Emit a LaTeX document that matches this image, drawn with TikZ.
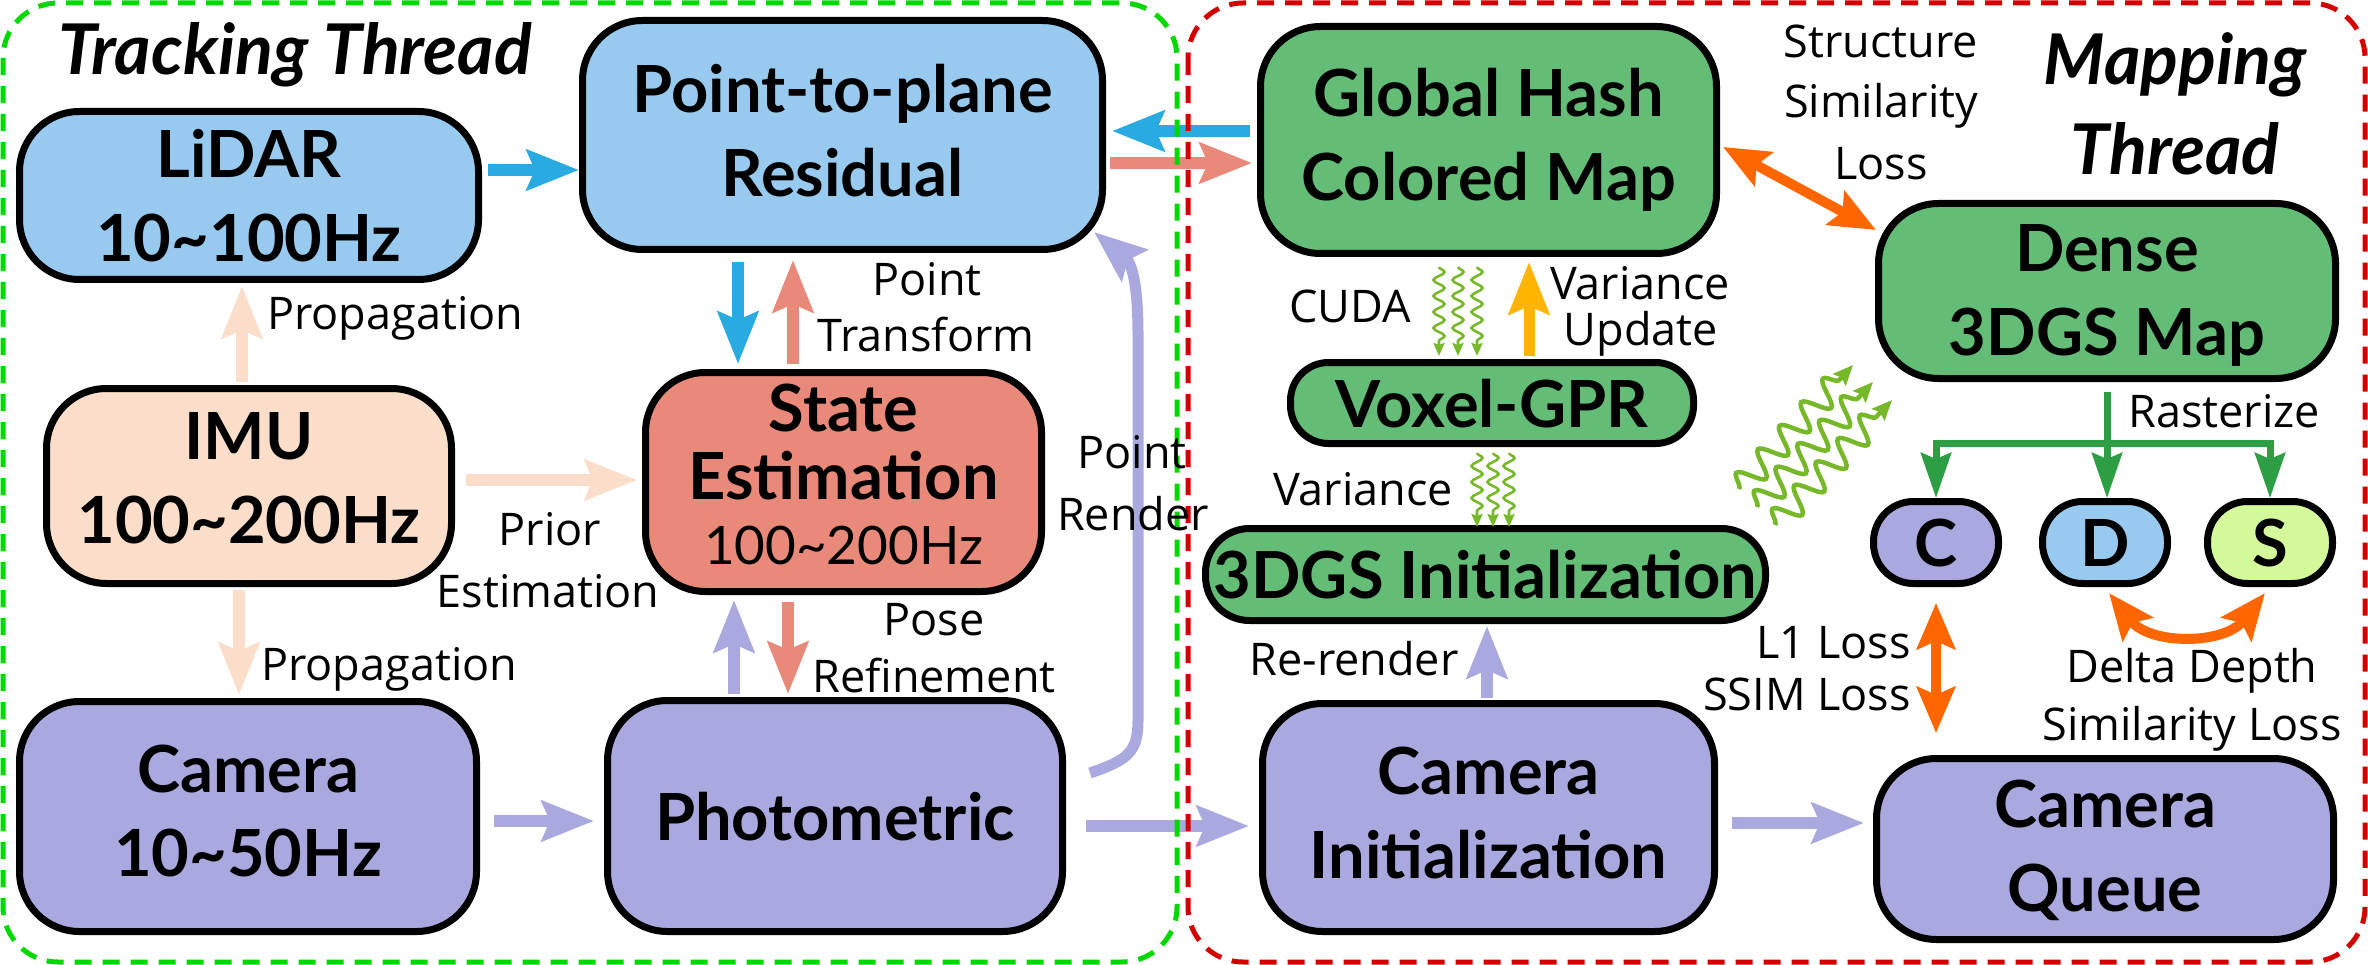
\documentclass[tikz,border=0pt]{standalone}
\usepackage{fontspec}
\setmainfont{Lato}
\newfontfamily\lblfont{Open Sans}
\usetikzlibrary{arrows.meta,decorations.pathmorphing,calc}
\definecolor{cblue}{HTML}{97CAEE}
\definecolor{cpeach}{HTML}{FADEC9}
\definecolor{csalmon}{HTML}{E8897A}
\definecolor{clav}{HTML}{A9A9E0}
\definecolor{cgreen}{HTML}{63BD77}
\definecolor{clime}{HTML}{D4F99B}
\definecolor{corange}{HTML}{FF6600}
\definecolor{cyellow}{HTML}{FFB400}
\definecolor{cwavy}{HTML}{76B82A}
\definecolor{craster}{HTML}{2E9E44}
\definecolor{cgdash}{HTML}{00D800}
\definecolor{crdash}{HTML}{D40000}
\definecolor{cablue}{HTML}{29ABE2}
\begin{document}
\begin{tikzpicture}[x=1pt,y=-1pt,
  box/.style={draw=black, line width=7pt, inner sep=0pt, align=center,
    rounded corners=60pt, font=\fontsize{65}{84}\selectfont\bfseries, text depth=10pt},
  pill/.style={box, text depth=0pt},
  lbl/.style={inner sep=0pt, anchor=base, font=\lblfont\fontsize{45}{56}\selectfont},
  ttl/.style={inner sep=0pt, anchor=base, font=\fontsize{70}{90}\selectfont\bfseries\itshape},
  fat/.style={line width=12pt, -{Stealth[length=52pt,width=40pt,inset=8pt]}},
  twoway/.style={draw=corange, line width=10pt,
    {Stealth[length=46pt,width=38pt,inset=8pt]}-{Stealth[length=46pt,width=38pt,inset=8pt]}},
  ras/.style={draw=craster, line width=7pt, -{Stealth[length=45pt,width=30pt,inset=6pt]}},
  squig/.style={draw=cwavy, line width=2.6pt, decorate,
    decoration={snake, amplitude=5.5pt, segment length=16pt, post length=9pt},
    -{Stealth[length=13pt,width=11pt,inset=2pt]}},
  bigsquig/.style={draw=cwavy, line width=4.5pt, decorate,
    decoration={snake, amplitude=13pt, segment length=32pt, post length=14pt},
    -{Stealth[length=20pt,width=17pt,inset=3pt]}},
  frame/.style={line width=5pt, dash pattern=on 17pt off 11pt, rounded corners=55pt}
]
\useasboundingbox (0,0) rectangle (2368,965);

% ---------- nodes ----------
\node[box, fill=cblue, minimum width=459pt, minimum height=168pt, text depth=0pt] (lidar) at (249,195.5) {LiDAR\\10\textasciitilde100Hz};
\node[box, fill=cblue, minimum width=520pt, minimum height=229pt] (ptp) at (842.5,135) {Point-to-plane\\Residual};
\node[box, fill=cpeach, minimum width=405pt, minimum height=195pt, text depth=16pt] (imu) at (249,486) {IMU\\100\textasciitilde200Hz};
\node[box, fill=csalmon, minimum width=396pt, minimum height=219pt, text depth=15pt,
  font=\fontsize{65}{68}\selectfont\bfseries] (state) at (843.5,482)
  {State\\Estimation\\[-3pt]{\fontsize{53}{60}\selectfont\mdseries 100\textasciitilde200Hz}};
\node[box, fill=clav, minimum width=457pt, minimum height=230pt, text depth=11pt] (camera) at (248,816.5) {Camera\\10\textasciitilde50Hz};
\node[pill, fill=clav, minimum width=455pt, minimum height=231pt] (photo) at (835,816) {Photometric};
\node[box, fill=cgreen, minimum width=456pt, minimum height=227pt, text depth=12pt] (ghash) at (1488.5,140) {Global Hash\\Colored Map};
\node[pill, fill=cgreen, minimum width=403pt, minimum height=81pt, rounded corners=38pt] (voxel) at (1492,403) {Voxel-GPR};
\node[pill, fill=cgreen, minimum width=560pt, minimum height=92pt, rounded corners=44pt] (dgsinit) at (1485.5,574.5) {3DGS Initialization};
\node[box, fill=clav, minimum width=452pt, minimum height=228pt, text depth=9pt] (caminit) at (1488.5,817.5) {Camera\\Initialization};
\node[box, fill=cgreen, minimum width=457pt, minimum height=175pt, text depth=2pt] (dense) at (2107,291) {Dense\\3DGS Map};
\node[pill, fill=clav, minimum width=125pt, minimum height=82pt, rounded corners=40pt] (cnode) at (1936,542.5) {C};
\node[pill, fill=cblue, minimum width=125pt, minimum height=82pt, rounded corners=40pt] (dnode) at (2105,542.5) {D};
\node[pill, fill=clime, minimum width=125pt, minimum height=82pt, rounded corners=40pt] (snode) at (2270,542.5) {S};
\node[box, fill=clav, minimum width=457pt, minimum height=181pt, text depth=6pt] (queue) at (2105,849) {Camera\\Queue};

% ---------- connectors ----------
\draw[fat, draw=cablue] ($(lidar.east)+(6,-25.5)$) -- ($(ptp.west)+(0,35)$);
\draw[fat, draw=cablue] ($(ghash.west)+(-7,-9)$) -- ($(ptp.east)+(6,-4)$);
\draw[fat, draw=csalmon] ($(ptp.east)+(4,28)$) -- ($(ghash.west)+(-5,23)$);
\draw[fat, draw=cablue] ($(ptp.south)+(-104.5,9)$) -- ($(state.north)+(-105.5,-5)$);
\draw[fat, draw=csalmon] ($(state.north)+(-50.5,-5)$) -- ($(ptp.south)+(-49.5,7)$);
\draw[fat, draw=cpeach] ($(imu.north)+(-7,-3)$) -- ($(lidar.south)+(-7,3)$);
\draw[fat, draw=cpeach] ($(imu.south)+(-10,3)$) -- ($(camera.north)+(-9,-3)$);
\draw[fat, draw=cpeach] ($(imu.east)+(11,-6)$) -- ($(state.west)+(-5,-2)$);
\draw[fat, draw=clav] ($(camera.east)+(14,4.5)$) -- ($(photo.west)+(-10,5)$);
\draw[fat, draw=clav] ($(photo.north)+(-101,-3)$) -- ($(state.south)+(-109.5,5)$);
\draw[fat, draw=csalmon] ($(state.south)+(-55.5,7)$) -- ($(photo.north)+(-47,-3)$);
\draw[fat, draw=clav] ($(photo.east)+(20,10)$) -- ($(caminit.west)+(-10,8.5)$);
\draw[fat, draw=clav] ($(caminit.east)+(14,5.5)$) -- ($(queue.west)+(-9,-26)$);
\draw[fat, draw=clav] ($(caminit.north)+(-1.5,-2)$) -- ($(dgsinit.south)+(1.5,2)$);
\draw[fat, draw=cyellow, line width=11pt] ($(voxel.north)+(37,-3)$) -- ($(voxel.north |- ghash.south)+(37,5)$);
\draw[fat, draw=clav, line width=11pt] ($(photo.east)+(24,-43)$) .. controls (1128,760) and (1138,752) .. (1138,720)
  -- (1138,335) .. controls (1138,295) and (1134,265) .. ($(ptp.south east)+(-12,-21)$);

% CUDA
\draw[squig] ($(ghash.south)+(-49.5,10)$) -- ($(voxel.north)+(-53,-3)$);
\draw[squig] ($(ghash.south)+(-30.5,10)$) -- ($(voxel.north)+(-34,-3)$);
\draw[squig] ($(ghash.south)+(-11.5,10)$) -- ($(voxel.north)+(-15,-3)$);
% Variance
\draw[squig] ($(voxel.south)+(-15,6)$) -- ($(dgsinit.north)+(-8.5,2)$);
\draw[squig] ($(voxel.south)+(1,6)$) -- ($(dgsinit.north)+(7.5,2)$);
\draw[squig] ($(voxel.south)+(17,6)$) -- ($(dgsinit.north)+(23.5,2)$);
% big squiggles
\draw[bigsquig] ($(dgsinit.north east)+(-30,-36)$) -- ($(dense.south west)+(-22,-17)$);
\draw[bigsquig] ($(dgsinit.north east)+(-12,-18)$) -- ($(dense.south west)+(-2,0)$);
\draw[bigsquig] ($(dgsinit.north east)+(6,0)$) -- ($(dense.south west)+(17,18)$);

% orange losses
\draw[twoway] ($(ghash.east)+(3,7)$) -- ($(dense.north west)+(1,30)$);
\draw[twoway] ($(cnode.south)+(0,16)$) -- ($(cnode.south |- queue.north)+(0,-22)$);
\draw[twoway] ($(dnode.south)+(4,6)$) .. controls (2150,645) and (2224,645) .. ($(snode.south)+(-5,6)$);

% rasterize
\coordinate (split) at ($(dense.south)+(0,61)$);
\draw[ras] ($(dense.south)+(0,10)$) -- (dense.south |- dnode.north);
\draw[ras] (split) -| (cnode.north);
\draw[ras] (split) -| (snode.north);

% ---------- frames ----------
\draw[frame, draw=cgdash] (3,3) rectangle (1177,962);
\draw[frame, draw=crdash] (1188,3) rectangle (2365,962);

% ---------- labels ----------
\node[ttl, anchor=base west] (ttrack) at (58,75) {Tracking Thread};
\node[ttl] (tmap1) at (2175,85) {Mapping};
\node[ttl] (tmap2) at (2175,175) {Thread};

\node[lbl, anchor=base west] (prop1) at (267,330) {Propagation};
\node[lbl, anchor=base west] (prop2) at (261,680) {Propagation};
\node[lbl] (prior1) at (550,545) {Prior};
\node[lbl] (prior2) at (548,607) {Estimation};
\node[lbl] (ptf1) at (927,296) {Point};
\node[lbl] (ptf2) at (926,352) {Transform};
\node[lbl] (pose1) at (934,635) {Pose};
\node[lbl] (pose2) at (934,692) {Refinement};
\node[lbl] (prd1) at (1132,468) {Point};
\node[lbl] (prd2) at (1133,530) {Render};
\node[lbl] (cuda) at (1350,323) {CUDA};
\node[lbl] (varup1) at (1640,300) {Variance};
\node[lbl] (varup2) at (1641,345) {Update};
\node[lbl] (var) at (1363,505) {Variance};
\node[lbl] (rer) at (1354,675) {Re-render};
\node[lbl] (ssl1) at (1881,58) {Structure};
\node[lbl] (ssl2) at (1881,118) {Similarity};
\node[lbl] (ssl3) at (1881,180) {Loss};
\node[lbl, anchor=base west] (rast) at (2128,427) {Rasterize};
\node[lbl, anchor=base east] (l1) at (1911,658) {L1 Loss};
\node[lbl, anchor=base east] (ssim) at (1911,710) {SSIM Loss};
\node[lbl] (dd1) at (2192,682) {Delta Depth};
\node[lbl] (dd2) at (2192,740) {Similarity Loss};
\end{tikzpicture}
\end{document}
